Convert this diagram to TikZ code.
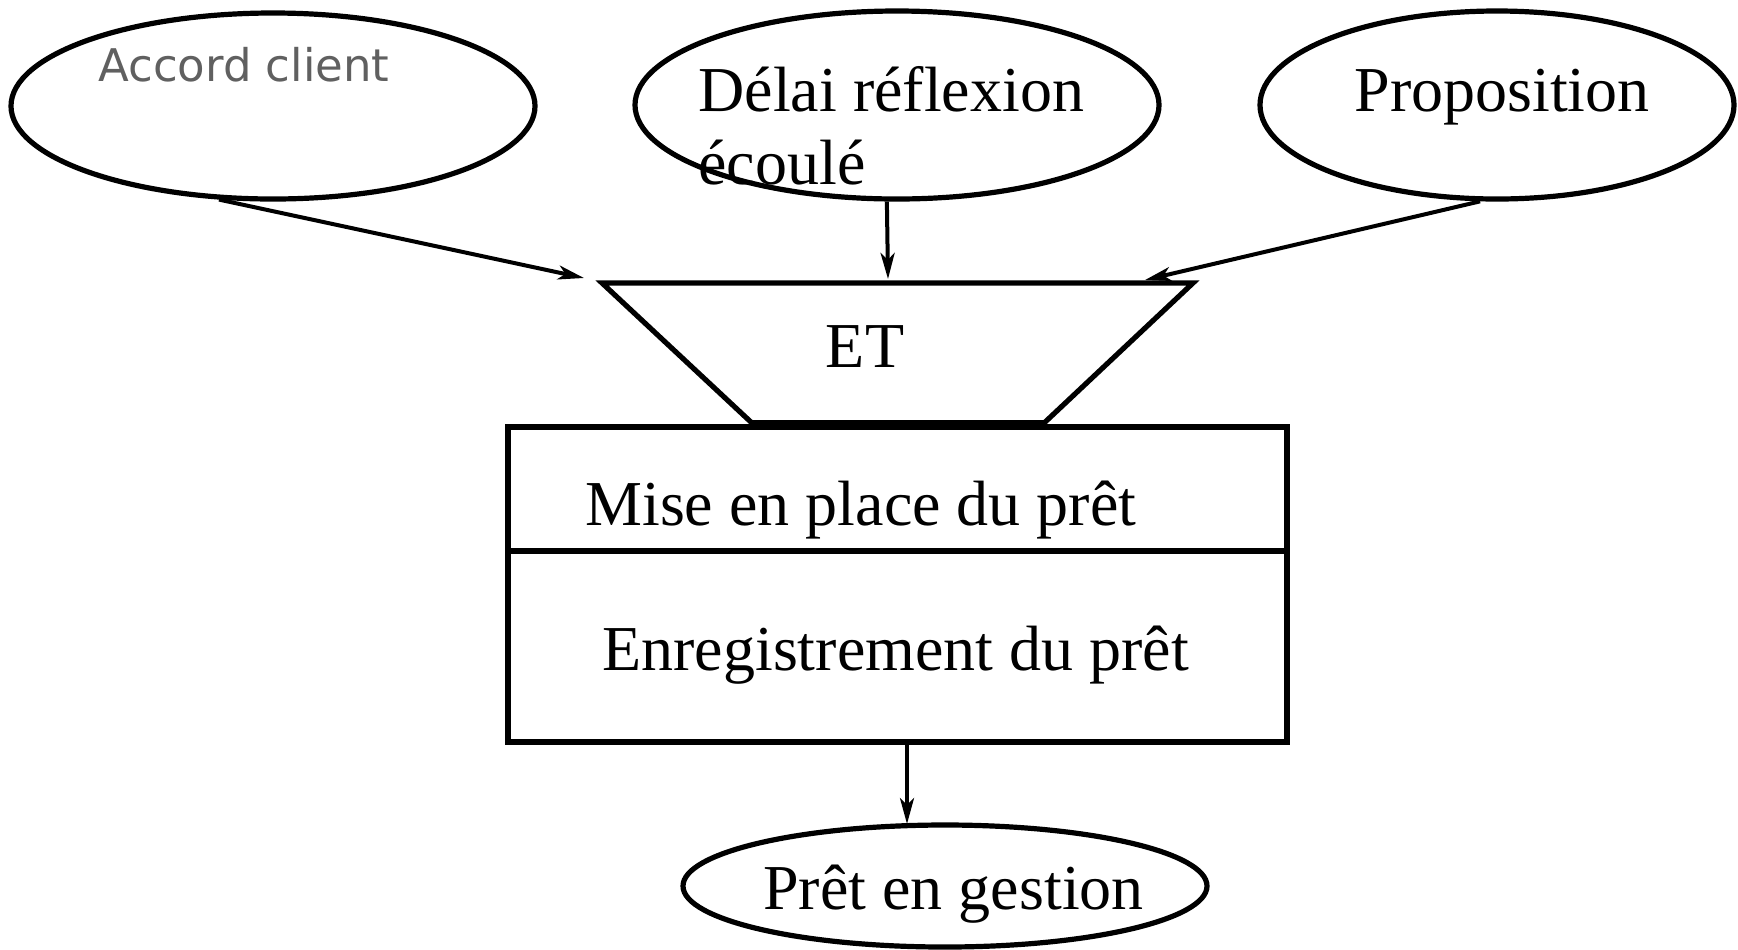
\documentclass[tikz,border=0pt]{standalone}
\usepackage{fontspec}
\setmainfont{Liberation Serif}
\newfontfamily\comicfont{DejaVu Sans}
\usetikzlibrary{shapes.geometric,arrows.meta}
\definecolor{txtgray}{HTML}{606060}
\begin{document}
\begin{tikzpicture}[x=0.5pt,y=-0.5pt,
  ell/.style={draw,ellipse,line width=2.6pt,inner sep=0pt},
  arr/.style={line width=2pt,-{Stealth[length=13pt,width=7pt,inset=3.5pt]}},
  lbl/.style={font=\fontsize{32}{36}\selectfont,inner sep=0pt,anchor=base west},
  boxstyle/.style={draw,rectangle,line width=2.6pt,inner sep=0pt}]
\useasboundingbox (0,0) rectangle (1738,949);
% ellipses
\node[ell,minimum width=262pt,minimum height=93pt] (e1) at (273,106) {};
\node[ell,minimum width=262pt,minimum height=94pt] (e2) at (897,105) {};
\node[ell,minimum width=237pt,minimum height=94pt] (e3) at (1497,105) {};
\node[ell,minimum width=262pt,minimum height=61pt] (e4) at (945,886) {};
% texts
\node[anchor=base west,inner sep=0pt,text=txtgray,font=\comicfont\fontsize{22.5}{26}\selectfont] (t1) at (98,81) {Accord client};
\node[lbl] (t2a) at (698,111) {Délai réflexion};
\node[lbl] (t2b) at (698,184) {écoulé};
\node[lbl] (t3) at (1354,111) {Proposition};
% trapezoid
\draw[line width=2.6pt,line join=miter] (602,283) -- (1193,283) -- (1043,424) -- (753,424) -- cycle;
\draw[line width=4pt] (753,424) -- (1043,424);
\node[font=\fontsize{32}{36}\selectfont,inner sep=0pt,anchor=base] (et) at (865,367) {ET};
% box
\node[boxstyle,minimum width=389.5pt,minimum height=157.5pt] (box) at (897.5,584.5) {};
\coordinate (divl) at (508,551);
\coordinate (divr) at (1287,551);
\draw[line width=2.6pt] (box.west |- divl) -- (box.east |- divr);
\node[lbl] (m1) at (585,525) {Mise en place du prêt};
\node[lbl] (m2) at (602,670) {Enregistrement du prêt};
\node[lbl] (t4) at (763,909) {Prêt en gestion};
% arrow targets
\coordinate (a1) at (584,278);
\coordinate (a2) at (888,279);
\coordinate (a3) at (1145,280);
\coordinate (b0) at (907,745);
\coordinate (b1) at (907,824);
\draw[arr] (e1.240) -- (a1);
\draw[arr] (e2.264.6) -- (a2);
\draw[arr] (e3.260.5) -- (a3);
\draw[arr] (b0) -- (b1);
\end{tikzpicture}
\end{document}
